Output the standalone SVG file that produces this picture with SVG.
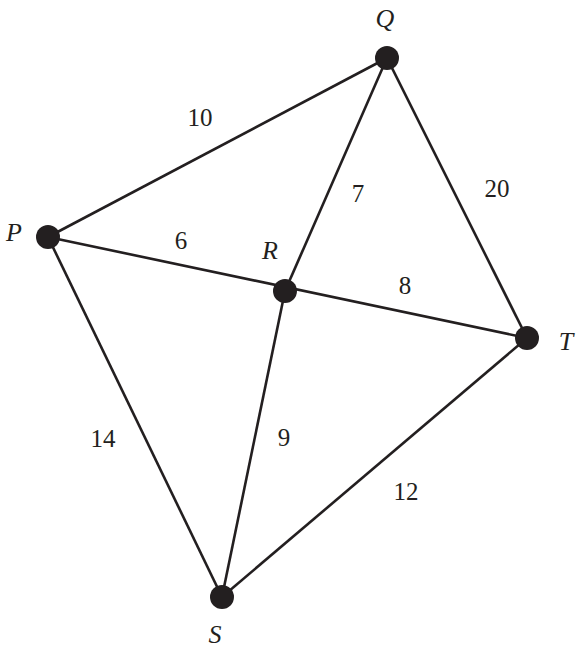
<svg xmlns="http://www.w3.org/2000/svg" width="582" height="654" viewBox="0 0 582 654">
<style>
.e{stroke:#231f20;stroke-width:2.6;fill:none}
.n{fill:#231f20}
.w{font-family:"Liberation Serif",serif;font-size:25px;fill:#231f20;text-anchor:middle}
.l{font-family:"Liberation Serif",serif;font-style:italic;font-size:26px;fill:#231f20;text-anchor:middle}
</style>
<rect width="582" height="654" fill="#fff"/>
<g id="connectors">
<line class="e" x1="48" y1="237" x2="387" y2="58"/>
<line class="e" x1="48" y1="237" x2="527" y2="338"/>
<line class="e" x1="48" y1="237" x2="222" y2="597"/>
<line class="e" x1="387" y1="58" x2="285" y2="291"/>
<line class="e" x1="387" y1="58" x2="527" y2="338"/>
<line class="e" x1="285" y1="291" x2="222" y2="597"/>
<line class="e" x1="527" y1="338" x2="222" y2="597"/>
<text class="w" x="200" y="126">10</text>
<text class="w" x="358" y="202">7</text>
<text class="w" x="497" y="197">20</text>
<text class="w" x="181" y="249">6</text>
<text class="w" x="405" y="294">8</text>
<text class="w" x="103" y="447">14</text>
<text class="w" x="284" y="446">9</text>
<text class="w" x="406" y="500">12</text>
</g>
<g id="P"><circle class="n" cx="48" cy="237" r="12"/><text class="l" x="14" y="241">P</text></g>
<g id="Q"><circle class="n" cx="387" cy="58" r="12"/><text class="l" x="385" y="27">Q</text></g>
<g id="R"><circle class="n" cx="285" cy="291" r="12"/><text class="l" x="270" y="259">R</text></g>
<g id="T"><circle class="n" cx="527" cy="338" r="12"/><text class="l" x="566" y="350">T</text></g>
<g id="S"><circle class="n" cx="222" cy="597" r="12"/><text class="l" x="215" y="643">S</text></g>
</svg>
